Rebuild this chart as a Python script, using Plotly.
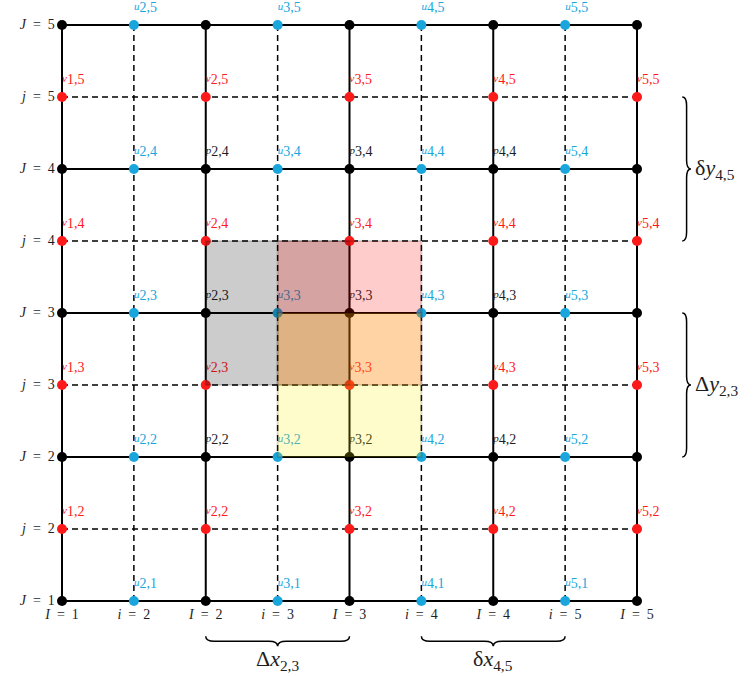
import plotly.graph_objects as go

# Staggered grid indices: capital letters = scalar (pressure) nodes,
# lower-case letters = velocity faces in between.
I_nodes = [1, 2, 3, 4, 5]
J_nodes = [1, 2, 3, 4, 5]
i_faces = [2, 3, 4, 5]
j_faces = [2, 3, 4, 5]

# Interior pressure points that carry a p label
p_labels_I = [2, 3, 4]
p_labels_J = [2, 3, 4]

# Control volumes shaded around one cell: (kind, first index, second index, fill)
control_volumes = [
    ("u", 3, 3, "rgba(0,0,0,0.2)"),
    ("p", 3, 3, "rgba(255,0,0,0.2)"),
    ("v", 3, 3, "rgba(255,240,0,0.2)"),
]

# Braces marking cell widths: (orientation, kind, first index, second index, label)
braces = [
    ("x", "I", 2, 3, "Δ<i>x</i><sub>2,3</sub>"),
    ("x", "i", 4, 5, "δ<i>x</i><sub>4,5</sub>"),
    ("y", "j", 4, 5, "δ<i>y</i><sub>4,5</sub>"),
    ("y", "J", 2, 3, "Δ<i>y</i><sub>2,3</sub>"),
]

BLUE = "#18a6dd"
RED = "#ff1a1a"
INK = "#1e1e1e"
FONT = "Liberation Serif"
SP = "\u00a0 "


def xI(I):
    return 2 * (I - 1)


def xi(i):
    return 2 * i - 3


def yJ(J):
    return 2 * (J - 1)


def yj(j):
    return 2 * j - 3


def xpos(kind, k):
    return xI(k) if kind == "I" else xi(k)


def ypos(kind, k):
    return yJ(k) if kind == "J" else yj(k)


x_lo, x_hi = xI(I_nodes[0]), xI(I_nodes[-1])
y_lo, y_hi = yJ(J_nodes[0]), yJ(J_nodes[-1])

fig = go.Figure()

# dashed lines through the velocity faces
dx, dy = [], []
for j in j_faces:
    dx += [x_lo, x_hi, None]
    dy += [yj(j), yj(j), None]
for i in i_faces:
    dx += [xi(i), xi(i), None]
    dy += [y_lo, y_hi, None]
fig.add_trace(go.Scatter(x=dx, y=dy, mode="lines",
                         line=dict(color="black", width=1.5, dash="6px,4px"),
                         hoverinfo="skip"))

# solid lines through the scalar nodes
sx, sy = [], []
for J in J_nodes:
    sx += [x_lo, x_hi, None]
    sy += [yJ(J), yJ(J), None]
for I in I_nodes:
    sx += [xI(I), xI(I), None]
    sy += [y_lo, y_hi, None]
fig.add_trace(go.Scatter(x=sx, y=sy, mode="lines",
                         line=dict(color="black", width=2), hoverinfo="skip"))

# points
px = [xI(I) for I in I_nodes for J in J_nodes]
py = [yJ(J) for I in I_nodes for J in J_nodes]
ux = [xi(i) for i in i_faces for J in J_nodes]
uy = [yJ(J) for i in i_faces for J in J_nodes]
vx = [xI(I) for I in I_nodes for j in j_faces]
vy = [yj(j) for I in I_nodes for j in j_faces]
for xs, ys, c in [(px, py, "black"), (ux, uy, BLUE), (vx, vy, RED)]:
    fig.add_trace(go.Scatter(x=xs, y=ys, mode="markers",
                             marker=dict(color=c, size=10, line=dict(width=0)),
                             hoverinfo="skip"))

# point labels, raised a little above and to the right of each point
LAB_DY = 0.23
LAB_SIZE = 14


def tag(letter, a, b):
    return (f"<span style='font-size:11px;baseline-shift:2px'><i>{letter}</i></span>"
            f"{a},{b}")


def add_labels(xs, ys, texts, color):
    fig.add_trace(go.Scatter(x=xs, y=[y + LAB_DY for y in ys], mode="text",
                             text=texts, textposition="middle right",
                             textfont=dict(family=FONT, size=LAB_SIZE, color=color),
                             hoverinfo="skip"))


add_labels(ux, uy, [tag("u", i, J) for i in i_faces for J in J_nodes], BLUE)
add_labels(vx, vy, [tag("v", I, j) for I in I_nodes for j in j_faces], RED)
add_labels([xI(I) for I in p_labels_I for J in p_labels_J],
           [yJ(J) for I in p_labels_I for J in p_labels_J],
           [tag("p", I, J) for I in p_labels_I for J in p_labels_J], INK)

# index labels along the left and bottom edges
AX_FONT = dict(family=FONT, size=14, color=INK)
left_y = [yJ(J) for J in J_nodes] + [yj(j) for j in j_faces]
left_t = [f"<i>J</i>{SP}={SP}{J}" for J in J_nodes] + [f"<i>j</i>{SP}={SP}{j}" for j in j_faces]
fig.add_trace(go.Scatter(x=[x_lo - 0.1] * len(left_y), y=left_y, mode="text",
                         text=left_t, textposition="middle left", textfont=AX_FONT,
                         hoverinfo="skip"))
bot_x = [xI(I) for I in I_nodes] + [xi(i) for i in i_faces]
bot_t = [f"<i>I</i>{SP}={SP}{I}" for I in I_nodes] + [f"<i>i</i>{SP}={SP}{i}" for i in i_faces]
fig.add_trace(go.Scatter(x=bot_x, y=[y_lo - 0.2] * len(bot_x), mode="text",
                         text=bot_t, textposition="middle center", textfont=AX_FONT,
                         hoverinfo="skip"))

# shaded control volumes (drawn over the grid)
shapes = []
for kind, a, b, fill in control_volumes:
    if kind == "u":
        cx, cy = xi(a), yJ(b)
    elif kind == "v":
        cx, cy = xI(a), yj(b)
    else:
        cx, cy = xI(a), yJ(b)
    shapes.append(dict(type="rect", xref="x", yref="y", layer="above",
                       x0=cx - 1, x1=cx + 1, y0=cy - 1, y1=cy + 1,
                       fillcolor=fill, line=dict(color="rgba(0,0,0,0.15)", width=2)))


def brace_h(xa, xb, y, d):
    h, q, xm = d / 2, 0.12, (xa + xb) / 2
    return (f"M {xa},{y} Q {xa},{y - h} {xa + q},{y - h} L {xm - q},{y - h} "
            f"Q {xm},{y - h} {xm},{y - d} Q {xm},{y - h} {xm + q},{y - h} "
            f"L {xb - q},{y - h} Q {xb},{y - h} {xb},{y}")


def brace_v(ya, yb, x, d):
    h, q, ym = d / 2, 0.12, (ya + yb) / 2
    return (f"M {x},{ya} Q {x + h},{ya} {x + h},{ya + q} L {x + h},{ym - q} "
            f"Q {x + h},{ym} {x + d},{ym} Q {x + h},{ym} {x + h},{ym + q} "
            f"L {x + h},{yb - q} Q {x + h},{yb} {x},{yb}")


BRACE_Y = y_lo - 0.49
BRACE_X = x_hi + 0.63
BR_FONT = dict(family=FONT, size=22, color=INK)
annotations = []
for orient, kind, a, b, label in braces:
    if orient == "x":
        xa, xb = xpos(kind, a), xpos(kind, b)
        shapes.append(dict(type="path", xref="x", yref="y", layer="above",
                           path=brace_h(xa, xb, BRACE_Y, 0.14),
                           line=dict(color="black", width=1.5)))
        annotations.append(dict(x=(xa + xb) / 2, y=BRACE_Y - 0.33, xref="x", yref="y",
                                text=label, showarrow=False, font=BR_FONT))
    else:
        ya, yb = ypos(kind, a), ypos(kind, b)
        shapes.append(dict(type="path", xref="x", yref="y", layer="above",
                           path=brace_v(ya, yb, BRACE_X, 0.12),
                           line=dict(color="black", width=1.5)))
        annotations.append(dict(x=BRACE_X + 0.15, y=(ya + yb) / 2, xref="x", yref="y",
                                text=label, showarrow=False, xanchor="left",
                                font=BR_FONT))

W, H = 753, 676
ux_px, uy_px = 71.875, 72.0
x0 = x_lo - 62 / ux_px
y1 = y_lo + 601 / uy_px
fig.update_layout(
    width=W, height=H, margin=dict(l=0, r=0, t=0, b=0),
    paper_bgcolor="white", plot_bgcolor="white", showlegend=False,
    xaxis=dict(range=[x0, x0 + W / ux_px], visible=False, fixedrange=True),
    yaxis=dict(range=[y1 - H / uy_px, y1], visible=False, fixedrange=True),
    shapes=shapes, annotations=annotations,
)

fig.write_html("out.html")
